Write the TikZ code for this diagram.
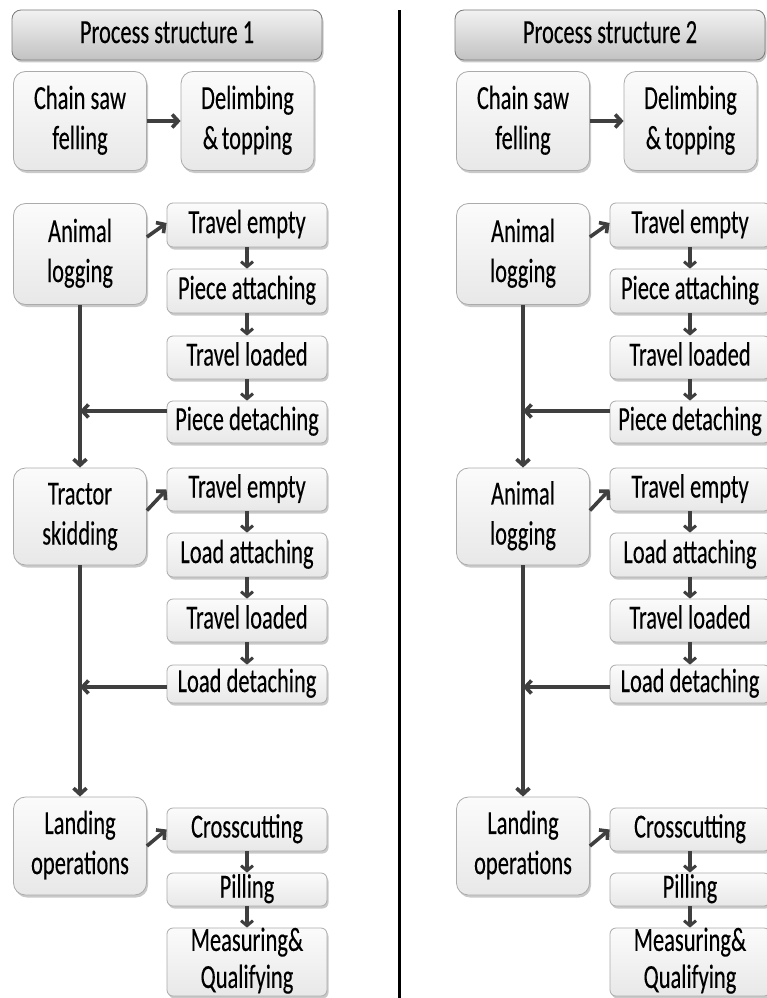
\documentclass[tikz,border=0pt]{standalone}
\usepackage{fontspec}
\usepackage{graphicx}
\newfontfamily\lab[FakeBold=0.25]{Carlito}
\usetikzlibrary{arrows.meta,shadows,calc}
\definecolor{boxtop}{HTML}{FBFBFB}
\definecolor{boxbot}{HTML}{E8E8E8}
\definecolor{boxline}{HTML}{ABABAB}
\definecolor{titletop}{HTML}{F2F2F2}
\definecolor{titlebot}{HTML}{C2C2C2}
\definecolor{titleline}{HTML}{7A7A7A}
\definecolor{arrowc}{HTML}{3F3F3F}
\definecolor{txt}{HTML}{000000}
\newcommand\tx[1]{\vbox to 0pt{\vss\hbox{\scalebox{1}[1.5]{\begin{tabular}{@{}c@{}}#1\end{tabular}}}\vss}}
\tikzset{
  base/.style={rounded corners=#1, draw=boxline, line width=0.8pt,
    top color=boxtop, bottom color=boxbot,
    drop shadow={shadow xshift=1.5pt,shadow yshift=-2.5pt,opacity=0.35,fill=black!60},
    inner sep=0pt, font=\lab\fontsize{22.5}{26.7}\selectfont, text=txt, align=center},
  titlebox/.style={base=9pt, draw=titleline, top color=titletop, bottom color=titlebot,
    minimum width=310pt, minimum height=50pt},
  bigbox/.style={base=12pt, minimum width=133pt, minimum height=#1},
  smallbox/.style={base=6pt, minimum width=160pt, minimum height=#1},
  conn/.style={draw=arrowc, line width=3.6pt, -{Straight Barb[length=6pt,width=13pt]}},
  sconn/.style={draw=arrowc, line width=4pt, -{Straight Barb[length=5pt,width=12pt,line width=3pt]}},
  divider/.style={draw=black, line width=3pt}
}
\newcommand\drawpanel[4]{%
\begin{scope}[xshift=#2]
  \node[titlebox] (#1title) at (167,35) {\tx{Process structure #3}};
  \node[bigbox=99pt] (#1chain) at (80,121) {\tx{Chain saw\\felling}};
  \node[bigbox=99pt] (#1delimb) at (247.5,121) {\tx{Delimbing\\\&\,topping}};
  \draw[conn] (#1chain) -- (#1delimb);
  % group 1
  \node[bigbox=101pt] (#1bigA) at (80,254) {\tx{Animal\\logging}};
  \node[smallbox=44pt] (#1teA) at (247,225) {\tx{Travel empty}};
  \node[smallbox=44pt] (#1paA) at (247,291) {\tx{Piece attaching}};
  \node[smallbox=43pt] (#1tlA) at (247,357.5) {\tx{Travel loaded}};
  \node[smallbox=42pt] (#1pdA) at (247,422) {\tx{Piece detaching}};
  \draw[conn] ([yshift=17pt]#1bigA.east) -- ([yshift=2pt]#1teA.west);
  \draw[sconn] (#1teA.south) -- (#1paA.north);
  \draw[sconn] (#1paA.south) -- (#1tlA.north);
  \draw[sconn] (#1tlA.south) -- (#1pdA.north);
  \coordinate (#1hA) at ([yshift=11pt]#1pdA.west);
  \draw[conn] (#1hA) -- (#1hA -| #1bigA.south);
  % group 2
  \node[bigbox=97pt] (#1bigB) at (80,516.5) {\tx{#4}};
  \node[smallbox=43pt] (#1teB) at (247,489.5) {\tx{Travel empty}};
  \node[smallbox=44pt] (#1laB) at (247,555) {\tx{Load attaching}};
  \node[smallbox=43pt] (#1tlB) at (247,620.5) {\tx{Travel loaded}};
  \node[smallbox=38pt] (#1ldB) at (247,684) {\tx{Load detaching}};
  \draw[conn] (#1bigA.south) -- (#1bigB.north);
  \draw[conn] ([yshift=6pt]#1bigB.east) -- (#1teB.west);
  \draw[sconn] (#1teB.south) -- (#1laB.north);
  \draw[sconn] (#1laB.south) -- (#1tlB.north);
  \draw[sconn] (#1tlB.south) -- (#1ldB.north);
  \coordinate (#1hB) at ([yshift=-3pt]#1ldB.west);
  \draw[conn] (#1hB) -- (#1hB -| #1bigB.south);
  % group 3
  \node[bigbox=98pt] (#1bigC) at (80,846) {\tx{Landing\\operations}};
  \node[smallbox=43pt] (#1cc) at (247,829.5) {\tx{Crosscutting}};
  \node[smallbox=33pt] (#1pil) at (247,889.5) {\tx{Pilling}};
  \node[smallbox=68pt, font=\lab\fontsize{22.5}{24.7}\selectfont] (#1meas) at (247,962) {\tx{Measuring\&\\Qualifying}};
  \draw[conn] (#1bigB.south) -- (#1bigC.north);
  \draw[conn] (#1bigC.east) -- (#1cc.west);
  \draw[sconn] (#1cc.south) -- (#1pil.north);
  \draw[sconn] (#1pil.south) -- (#1meas.north);
\end{scope}}
\begin{document}
\begin{tikzpicture}[x=1pt,y=-1pt]
  \useasboundingbox[fill=white] (0,0) rectangle (766,998);
  \drawpanel{l}{0pt}{1}{Tractor\\skidding}
  \drawpanel{r}{443pt}{2}{Animal\\logging}
  \coordinate (dtop) at (399,10);
  \coordinate (dbot) at (399,998);
  \draw[divider] (dtop) -- (dbot);
\end{tikzpicture}
\end{document}
